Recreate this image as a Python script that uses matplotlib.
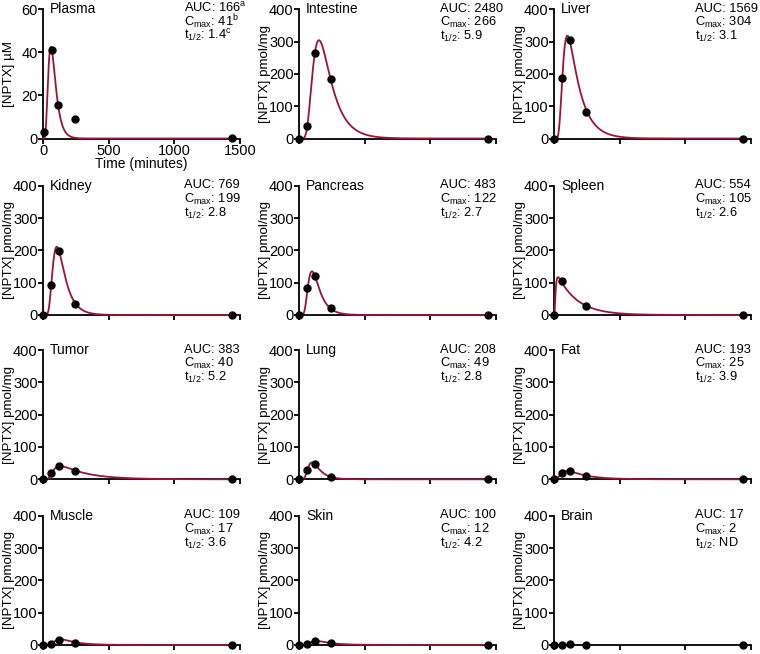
import numpy as np
import matplotlib
matplotlib.use("Agg")
import matplotlib.pyplot as plt

plt.rcParams['font.family'] = ['Liberation Sans', 'DejaVu Sans']
plt.rcParams['mathtext.fontset'] = 'custom'
plt.rcParams['mathtext.rm'] = 'Liberation Sans'
plt.rcParams['mathtext.it'] = 'Liberation Sans:italic'

# sampling times (minutes)
times = [0, 60, 120, 240, 1440]
plasma_times = [5, 65, 110, 245, 1440]
spleen_times = [0, 60, 240, 1440]

# measured concentrations
plasma = [3, 41, 15.5, 9, 0.3]
intestine = [0, 38, 266, 185, 0]
liver = [0, 188, 304, 82, 0]
kidney = [0, 92, 199, 33, 0]
pancreas = [0, 85, 121, 21, 0]
spleen = [0, 104, 27, 0]
tumor = [0, 18, 40, 26, 0]
lung = [0, 30, 48, 8, 0]
fat = [0, 20, 25, 10, 0]
muscle = [0, 3, 17, 7, 0]
skin = [0, 2, 12, 7, 0]
brain = [0, 1, 2, 1, 0]

organs = ["Plasma", "Intestine", "Liver", "Kidney", "Pancreas", "Spleen",
          "Tumor", "Lung", "Fat", "Muscle", "Skin", "Brain"]
auc = ["166$^{\\rm a}$", "2480", "1569", "769", "483", "554",
       "383", "208", "193", "109", "100", "17"]
cmax = ["41$^{\\rm b}$", "266", "304", "199", "122", "105",
        "40", "49", "25", "17", "12", "2"]
thalf = ["1.4$^{\\rm c}$", "5.9", "3.1", "2.8", "2.7", "2.6",
         "5.2", "2.8", "3.9", "3.6", "4.2", "ND"]

# fitted curve parameters: peak value, ka, n, ke
fit_peak = [42.5, 304, 318, 211, 135, 117, 41, 52, 25.5, 18, 12.5, None]
fit_ka = [0.036, 0.02, 0.035, 0.031, 0.033, 0.13, 0.03, 0.033, 0.03, 0.03, 0.03, None]
fit_n = [6, 10, 10, 12, 12, 2, 8, 12, 4, 14, 14, None]
fit_ke = [0.031, 0.0105, 0.011, 0.016, 0.017, 0.0068, 0.005, 0.017, 0.007, 0.009, 0.009, None]

xs = [plasma_times, times, times, times, times, spleen_times,
      times, times, times, times, times, times]
ys = [plasma, intestine, liver, kidney, pancreas, spleen,
      tumor, lung, fat, muscle, skin, brain]

fig = plt.figure(figsize=(7.6, 6.54), dpi=100)

lefts = [43.3, 299.3, 554.3]
bottoms = [138.5, 315, 479.3, 645]
W, H = 196.7, 129.3
red = "#9c1530"
fs = 9.6
sfs = 9.3

for i in range(12):
    r, c = divmod(i, 3)
    ax = fig.add_axes([lefts[c] / 760, (654 - bottoms[r]) / 654, W / 760, H / 654])
    ax.set_xlim(0, 1500)
    if i == 0:
        ax.set_ylim(0, 60)
        ax.set_yticks([0, 20, 40, 60])
        ax.set_ylabel("[NPTX] µM", fontsize=fs, va="center")
        ax.set_xlabel("Time (minutes)", fontsize=fs + 0.4, va="center")
        ax.xaxis.set_label_coords(0.5, -0.2)
    else:
        ax.set_ylim(0, 400)
        ax.set_yticks([0, 100, 200, 300, 400])
        ax.set_ylabel("[NPTX] pmol/mg", fontsize=fs, va="center")
    ax.yaxis.set_label_coords(-0.172, 0.5)
    ax.set_xticks([0, 500, 1000, 1500])
    if i != 0:
        ax.set_xticklabels([])
    for s in ["top", "right"]:
        ax.spines[s].set_visible(False)
    for s in ["left", "bottom"]:
        ax.spines[s].set_linewidth(1.3)
    ax.tick_params(direction="out", length=3.5, width=1.3, labelsize=10.5, pad=0.5)

    if fit_peak[i] is not None:
        t = np.linspace(0, 1440, 1500)
        shape = (1 - np.exp(-fit_ka[i] * t)) ** fit_n[i] * np.exp(-fit_ke[i] * t)
        ax.plot(t, shape / shape.max() * fit_peak[i], color=red, lw=1.3,
                clip_on=False, zorder=3)
    ax.plot(xs[i], ys[i], "o", color="black", ms=5, clip_on=False, zorder=4)

    ax.text(0.034, 0.97, organs[i], transform=ax.transAxes, fontsize=fs + 0.4,
            va="baseline", ha="left")
    ax.text(0.717, 0.98, "AUC: " + auc[i], transform=ax.transAxes,
            fontsize=sfs, va="baseline", ha="left")
    ax.text(0.717, 0.868, "C$_{\\rm max}$: " + cmax[i], transform=ax.transAxes,
            fontsize=sfs, va="baseline", ha="left")
    ax.text(0.717, 0.76, "t$_{\\rm 1/2}$: " + thalf[i], transform=ax.transAxes,
            fontsize=sfs, va="baseline", ha="left")

fig.savefig("out.png", dpi=100)
